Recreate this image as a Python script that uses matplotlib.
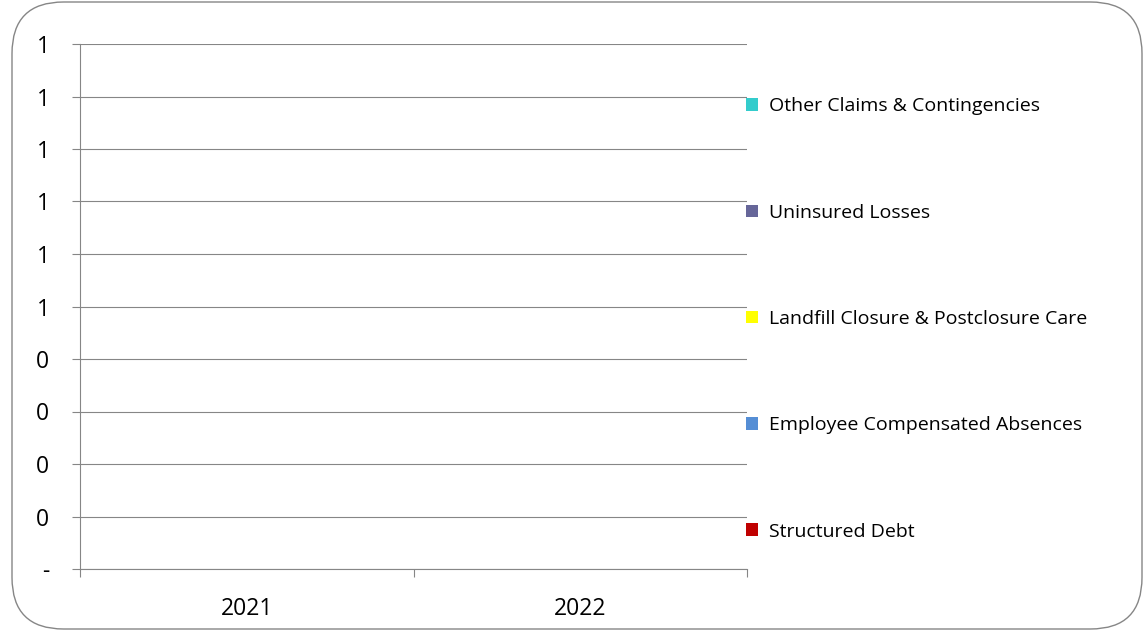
import numpy as np
import matplotlib.pyplot as plt
from matplotlib.patches import FancyBboxPatch

plt.rcParams['font.family'] = ['Open Sans', 'DejaVu Sans']

# data (all series are empty / zero in the source chart)
years = ['2021', '2022']
series_names = ['Structured Debt', 'Employee Compensated Absences',
                'Landfill Closure & Postclosure Care', 'Uninsured Losses',
                'Other Claims & Contingencies']
structured_debt = [0, 0]
employee_absences = [0, 0]
landfill_care = [0, 0]
uninsured_losses = [0, 0]
other_claims = [0, 0]
colors = ['#C00000', '#558ED5', '#FFFF00', '#666699', '#33CCCC']

y_ticks = np.arange(0, 1.01, 0.1)
y_labels = ['-'] + ['%d' % round(v + 1e-9) if v < 0.45 else '1' for v in y_ticks[1:]]

grid_col = '#868686'

fig = plt.figure(figsize=(11.45, 6.31), dpi=100)
ax = fig.add_axes([80/1145, 1-569/631, (747-80)/1145, (569-44)/631])

x = np.arange(len(years))
bottom = np.zeros(len(years))
bars = []
for name, vals, c in zip(series_names,
                         [structured_debt, employee_absences, landfill_care,
                          uninsured_losses, other_claims], colors):
    b = ax.bar(x, vals, 0.4, bottom=bottom, color=c, label=name)
    bottom += np.array(vals, dtype=float)
    bars.append(b)

ax.set_xlim(-0.5, 1.5)
ax.set_ylim(0, 1)
ax.set_yticks(y_ticks)
ax.set_yticklabels(y_labels, fontsize=16.5)
ax.set_xticks(x)
ax.set_xticklabels(years, fontsize=16.5)
ax.set_xticks([-0.5, 0.5, 1.5], minor=True)
ax.tick_params(axis='x', which='major', length=0, pad=20)
ax.tick_params(axis='x', which='minor', length=6, width=0.8, color=grid_col, direction='out')
ax.tick_params(axis='y', length=6, width=0.8, color=grid_col, pad=16)
ax.yaxis.grid(True, color=grid_col, linewidth=0.8)
ax.set_axisbelow(True)
for s in ['top', 'right']:
    ax.spines[s].set_visible(False)
for s in ['left', 'bottom']:
    ax.spines[s].set_color(grid_col)
    ax.spines[s].set_linewidth(0.8)

handles = bars[::-1]
labels = series_names[::-1]
leg = ax.legend(handles, labels, loc='center left',
                bbox_to_anchor=(746/1145, 1-319/631), bbox_transform=fig.transFigure,
                frameon=False, fontsize=14, handlelength=0.62, handleheight=0.62,
                handletextpad=0.55, labelspacing=4.54, borderpad=0, borderaxespad=0)

# rounded outer border
border = FancyBboxPatch((12/1145, 2/631), 1130/1145, 627/631,
                        boxstyle='round,pad=0,rounding_size=0.045',
                        transform=fig.transFigure, fill=False,
                        edgecolor=grid_col, linewidth=1.0,
                        mutation_aspect=1145/631)
fig.patches.append(border)

fig.savefig('out.png', dpi=100)
